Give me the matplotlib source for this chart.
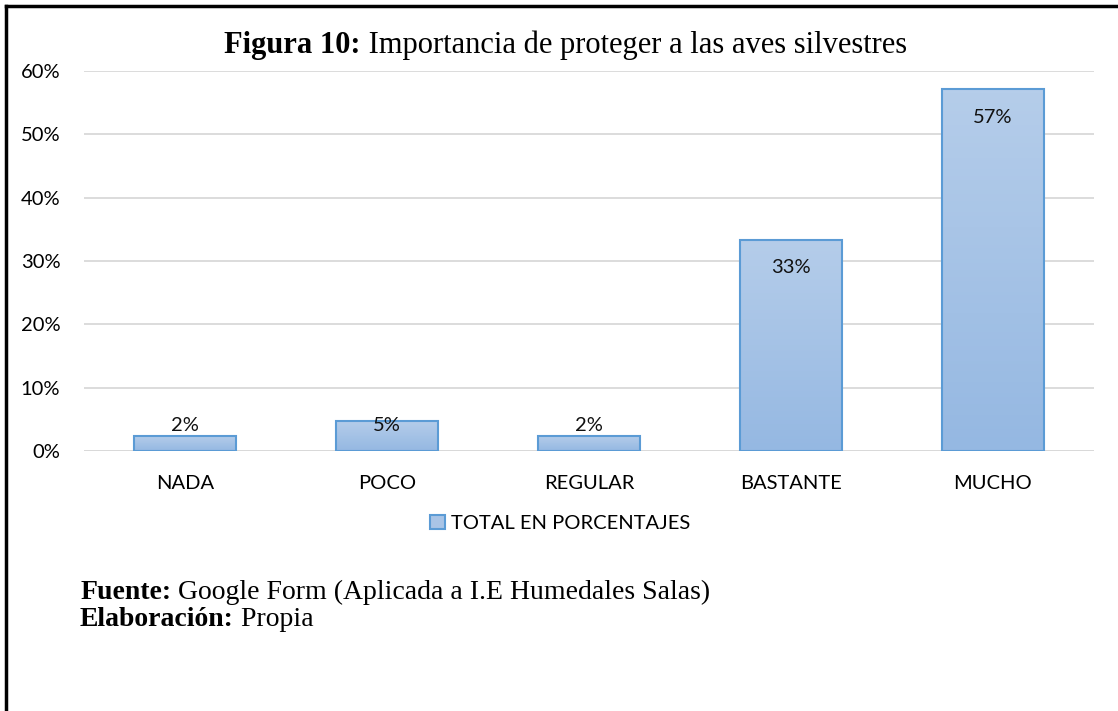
import matplotlib.pyplot as plt
import numpy as np
from matplotlib.colors import LinearSegmentedColormap
from matplotlib.patches import Patch
from matplotlib.lines import Line2D

# Data
categories = ["NADA", "POCO", "REGULAR", "BASTANTE", "MUCHO"]
values = [0.0238, 0.0476, 0.0238, 0.3333, 0.5714]
labels = ["2%", "5%", "2%", "33%", "57%"]
yticks = [0, 0.1, 0.2, 0.3, 0.4, 0.5, 0.6]
ytick_labels = ["0%", "10%", "20%", "30%", "40%", "50%", "60%"]

sans = ["Lato", "DejaVu Sans"]
serif = ["Liberation Serif", "DejaVu Serif"]

fig = plt.figure(figsize=(11.18, 7.11), dpi=100)
ax = fig.add_axes([0.0751, 0.3657, 0.9034, 0.5344])

x = np.arange(len(categories))
bars = ax.bar(x, values, width=0.505, color="none", edgecolor="#5b9bd5", linewidth=1.5, zorder=3)

# vertical gradient inside each bar
grad = LinearSegmentedColormap.from_list("g", ["#95b8e2", "#b5cdea"])
for b in bars:
    x0, y0 = b.get_x(), b.get_y()
    w, h = b.get_width(), b.get_height()
    im = ax.imshow(np.linspace(0, 1, 100).reshape(-1, 1), cmap=grad, origin="lower",
                   extent=[x0, x0 + w, y0, y0 + h], aspect="auto", zorder=2)
    im.set_clip_path(b)

# data labels: inside end, pushed up for short bars
for xi, v, lab in zip(x, values, labels):
    ly = max(v - 0.044, 0.04)
    ax.text(xi, ly, lab, ha="center", va="center", fontsize=14.5, family=sans, color="#111111", zorder=4)

ax.set_xlim(-0.5, len(categories) - 0.5)
ax.set_ylim(0, 0.6)
ax.set_yticks(yticks)
ax.set_yticklabels(ytick_labels, family=sans, fontsize=14.5)
ax.set_xticks(x)
ax.set_xticklabels(categories, family=sans, fontsize=14.5)
ax.tick_params(length=0)
ax.tick_params(axis="y", pad=17)
ax.tick_params(axis="x", pad=17)
ax.grid(axis="y", color="#d9d9d9", linewidth=1.3, zorder=0)
for s in ax.spines.values():
    s.set_visible(False)
ax.axhline(0, color="#d9d9d9", linewidth=1.3, zorder=1)

# legend
handle = Patch(facecolor="#a9c4e6", edgecolor="#5b9bd5", linewidth=1.5)
fig.legend([handle], ["TOTAL EN PORCENTAJES"], loc="center", bbox_to_anchor=(0.501, 0.264),
           frameon=False, prop={"family": sans, "size": 14.5}, handlelength=0.75, handleheight=0.75,
           handletextpad=0.3)

# title: bold prefix + regular text
t1 = fig.text(0.2005, 0.925, "Figura 10:", fontsize=22, fontweight="bold", family=serif, va="baseline")
fig.canvas.draw()
ax.annotate(" Importancia de proteger a las aves silvestres", xy=(1, 0), xycoords=t1,
            fontsize=22, family=serif, va="bottom", annotation_clip=False)

# source notes
f1 = fig.text(0.0716, 0.158, "Fuente:", fontsize=20, fontweight="bold", family=serif, va="baseline")
ax.annotate(" Google Form (Aplicada a I.E Humedales Salas)", xy=(1, 0), xycoords=f1,
            fontsize=20, family=serif, va="bottom", annotation_clip=False)
f2 = fig.text(0.0716, 0.120, "Elaboración:", fontsize=20, fontweight="bold", family=serif, va="baseline")
ax.annotate(" Propia", xy=(1, 0), xycoords=f2,
            fontsize=20, family=serif, va="bottom", annotation_clip=False)

# frame lines (top and left)
fig.add_artist(Line2D([0.005, 1.0], [0.9915, 0.9915], color="black", linewidth=2.5, transform=fig.transFigure))
fig.add_artist(Line2D([0.0054, 0.0054], [0.0, 0.9915], color="black", linewidth=2.5, transform=fig.transFigure))

fig.savefig("out.png", dpi=100)
